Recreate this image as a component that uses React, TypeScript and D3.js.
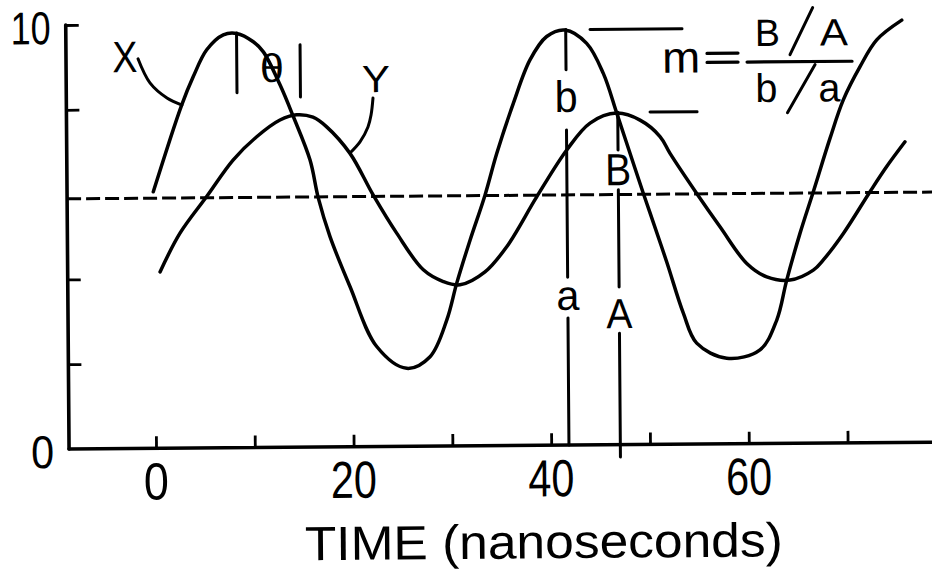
import React, { useEffect, useRef } from "react";
import * as d3 from "d3";

type Pt = [number, number];

// time (ns), value
const seriesX: Pt[] = [
  [-0.07, 6.05], [2.87, 8.09], [4.07, 8.76], [5.45, 9.39], [7.14, 9.74], [8.5, 9.77],
  [10.17, 9.57], [11.18, 9.33], [12.84, 8.55], [14.16, 7.8], [15.82, 6.77], [16.63, 5.87],
  [17.78, 4.96], [19.76, 3.78], [22.42, 2.36], [25.44, 1.84], [27.81, 2.11], [29.53, 2.97],
  [30.57, 3.84], [31.95, 4.85], [33.5, 5.91], [34.72, 6.89], [36.44, 8.07], [38.16, 9.09],
  [39.87, 9.64], [41.73, 9.79], [43.91, 9.47], [45.57, 8.76], [46.9, 7.82], [48.21, 6.87],
  [49.53, 5.92], [50.19, 5.46], [51.84, 4.3], [53.48, 3.09], [54.81, 2.38], [57.83, 2.02],
  [61.21, 2.21], [62.93, 2.91], [63.97, 3.85], [65.35, 4.95], [66.73, 5.93], [68.47, 7.19],
  [69.84, 8.09], [71.56, 8.87], [73.27, 9.5], [75.82, 9.96],
];

const seriesY: Pt[] = [
  [0.55, 4.16], [2.6, 5.07], [5.33, 5.93], [8.05, 6.79], [10.44, 7.33], [12.81, 7.72],
  [14.51, 7.84], [16.15, 7.78], [17.53, 7.55], [19.87, 6.92], [22.19, 5.93], [24.53, 5.03],
  [27.2, 4.16], [29.21, 3.88], [30.9, 3.8], [33.44, 4.1], [35.66, 4.69], [38.73, 5.86],
  [41.81, 6.96], [44.19, 7.59], [46.9, 7.82], [49.25, 7.65], [51.26, 7.26], [52.26, 6.86],
  [54.93, 5.91], [57.26, 5.12], [59.94, 4.25], [61.95, 3.93], [64.3, 3.85], [66.67, 4.08],
  [67.69, 4.32], [69.74, 4.94], [72.47, 5.92], [74.18, 6.51], [76.05, 7.09],
];

const threshold = 5.9;

const xTicks = [0, 10, 20, 30, 40, 50, 60, 70];
const xTickLabels = [0, 20, 40, 60];
const yTicks = [2, 4, 8, 10];
const yTickLabels = [0, 10];

const tSmall = 41.8; // line through the X peak (b, a)
const tLarge = 47.0; // line through the Y peak (B, A)
const peakX = 9.8;
const peakY = 7.84;

export default function App() {
  const ref = useRef<SVGSVGElement | null>(null);

  useEffect(() => {
    const W = 932, H = 575;
    const svg = d3.select(ref.current);
    svg.selectAll("*").remove();
    svg.attr("width", W).attr("height", H).attr("viewBox", `0 0 ${W} ${H}`);
    svg.append("rect").attr("width", W).attr("height", H).attr("fill", "#fff");

    const x = d3.scaleLinear().domain([0, 70]).range([156, 847.6]);
    const y = d3.scaleLinear().domain([0, 10]).range([449, 25]);
    const x0 = x(-8.8);
    const ink = "#000";

    // the original scan sits a little tilted; turn the drawing about the origin corner
    const g = svg.append("g")
      .attr("transform", `rotate(-0.45, ${x0}, ${y(0)})`)
      .attr("font-family", "'Liberation Sans', Arial, sans-serif")
      .attr("fill", ink);

    const text = (parent: any, str: string, px: number, py: number, size: number, len: number, anchor = "middle") =>
      parent.append("text")
        .attr("x", px).attr("y", py)
        .attr("font-size", size)
        .attr("text-anchor", anchor)
        .attr("textLength", len)
        .attr("lengthAdjust", "spacingAndGlyphs")
        .text(str);

    const seg = (parent: any, x1: number, y1: number, x2: number, y2: number, sw = 3) =>
      parent.append("line")
        .attr("x1", x1).attr("y1", y1).attr("x2", x2).attr("y2", y2)
        .attr("stroke", ink).attr("stroke-width", sw).attr("stroke-linecap", "round");

    // axes
    const xAxis = g.append("g").attr("transform", `translate(0,${y(0)})`)
      .call(d3.axisBottom(x).tickValues(xTicks).tickSize(-12).tickFormat(() => ""));
    xAxis.select(".domain").remove();
    xAxis.selectAll("line").attr("stroke", ink).attr("stroke-width", 2.8);

    const yAxis = g.append("g").attr("transform", `translate(${x0},0)`)
      .call(d3.axisLeft(y).tickValues(yTicks).tickSize(-13).tickFormat(() => ""));
    yAxis.select(".domain").remove();
    yAxis.selectAll("line").attr("stroke", ink).attr("stroke-width", 2.8);

    seg(g, x0, y(0), x(79), y(0), 3.6);
    seg(g, x0, y(0), x0, y(10), 3.6);

    xTickLabels.forEach(v => text(g, String(v), x(v), y(0) + 51, 52, v === 0 ? 25 : 46));
    yTickLabels.forEach(v => text(g, String(v), x0 - 15, y(v) + 19, 46, v === 0 ? 23 : 40, "end"));

    text(g, "TIME (nanoseconds)", 543, 562, 48, 478);

    // dashed reference level
    g.append("line")
      .attr("x1", x0).attr("x2", x(79))
      .attr("y1", y(threshold)).attr("y2", y(threshold))
      .attr("stroke", ink).attr("stroke-width", 3).attr("stroke-dasharray", "14 5");

    // curves
    const line = d3.line<Pt>().x(d => x(d[0])).y(d => y(d[1])).curve(d3.curveCatmullRom.alpha(0.5));
    [seriesX, seriesY].forEach(s =>
      g.append("path").datum(s).attr("d", line).attr("fill", "none")
        .attr("stroke", ink).attr("stroke-width", 3.5)
        .attr("stroke-linejoin", "round").attr("stroke-linecap", "round"));

    // curve names with leaders
    const leaderX: Pt[] = [[-1.51, 9.19], [-0.32, 8.62], [1.39, 8.26], [2.9, 8.09]];
    const leaderY: Pt[] = [[22.24, 8.22], [22.03, 7.82], [21.71, 7.54], [20.89, 7.19], [19.87, 6.93]];
    [leaderX, leaderY].forEach(s =>
      g.append("path").datum(s).attr("d", line).attr("fill", "none")
        .attr("stroke", ink).attr("stroke-width", 3).attr("stroke-linecap", "round"));
    text(g, "X", x(-2.83), y(8.88), 44, 25);
    text(g, "Y", x(22.55), y(8.36), 38, 28);

    // phase between the peaks
    seg(g, x(8.48), y(9.78), x(8.48), y(8.37));
    seg(g, x(14.9), y(9.49), x(14.9), y(8.26));
    text(g, "θ", x(12.03), y(8.62), 40, 24);

    // vertical reading lines, broken for their letters
    [[peakX, 8.85], [7.43, 3.96], [3.0, 0]].forEach(([a, b]) => seg(g, x(tSmall), y(a), x(tSmall), y(b)));
    [[peakY, 6.95], [6.01, 3.72], [2.63, -0.29]].forEach(([a, b]) => seg(g, x(tLarge), y(a), x(tLarge), y(b)));
    text(g, "b", x(tSmall), y(7.86), 44, 23);
    text(g, "a", x(tSmall), y(3.19), 42, 23);
    text(g, "B", x(tLarge), y(6.12), 45, 26);
    text(g, "A", x(tLarge), y(2.75), 42, 26);

    // peak levels
    seg(g, x(44.26), y(peakX), x(53.57), y(peakX));
    seg(g, x(50.27), y(peakY), x(55.03), y(peakY));

    // m = (B/A) / (b/a)
    const f = g.append("g").attr("transform", `translate(${x(60.13)},${y(9.0)})`);
    text(f, "m", -85, 10, 44, 38, "start");
    seg(f, -40, -9, -9, -9, 3.2);
    seg(f, -40, 0, -9, 0, 3.2);
    seg(f, 0, 0, 105, 0, 3.2);
    text(f, "B", 8, -16, 38, 25, "start");
    seg(f, 43, -7, 66, -54);
    text(f, "A", 73, -16, 38, 28, "start");
    text(f, "b", 8, 40, 40, 22, "start");
    seg(f, 40, 51, 68, 3);
    text(f, "a", 71, 40, 40, 22, "start");
  }, []);

  return (
    <div style={{ position: "absolute", left: 0, top: 0 }}>
      <svg ref={ref} />
    </div>
  );
}
